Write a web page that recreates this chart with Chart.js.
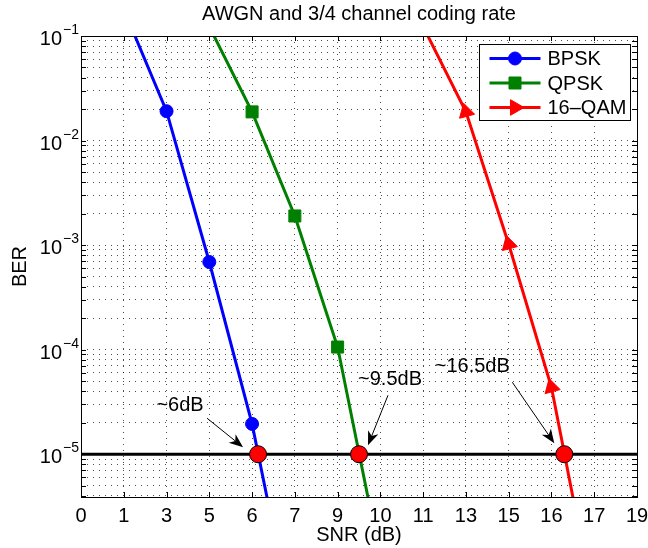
<!DOCTYPE html>
<html>
<head>
<meta charset="utf-8">
<script src="https://cdn.jsdelivr.net/npm/chart.js@4.4.1/dist/chart.umd.min.js"></script>
<style>
  html, body { margin: 0; padding: 0; background: #fff; }
  #wrap { width: 648px; height: 548px; }
</style>
</head>
<body>
<div id="wrap"><canvas id="ber"></canvas></div>
<script>
// SNR tick labels as printed under the axis (they sit at equal spacing)
const snrTicks = [0, 1, 3, 5, 6, 7, 9, 10, 11, 13, 15, 16, 17, 19];

const seriesNames = ['BPSK', 'QPSK', '16\u2013QAM'];
// first and last point of every curve lie outside the shown BER range
const bpskSnr = [1, 3, 5, 6, 7];
const bpskBer = [0.18, 0.0191, 6.9e-4, 1.95e-5, 1.9e-7];
const qpskSnr = [5, 6, 7, 9, 10];
const qpskBer = [0.123, 0.0188, 1.9e-3, 1.06e-4, 1.0e-6];
const qamSnr = [11, 13, 15, 16, 17];
const qamBer = [0.123, 0.0188, 1.02e-3, 4.37e-5, 3.5e-7];

const targetBer = 1e-5;
const crossSnr = [6.14, 9.5, 16.3];
const crossNotes = ['~6dB', '~9.5dB', '~16.5dB'];

const berMin = 3.9e-6;
const berMax = 0.1;

const FONT = '"Liberation Sans", Arial, Helvetica, sans-serif';
const colors = ['#0000ff', '#008000', '#ff0000'];
const markers = [
    {style: 'circle', r: 6.5, rot: 0, legendRot: 0},
    {style: 'rect', r: 8.5, rot: 0, legendRot: 0},
    {style: 'triangle', r: 9, rot: -15, legendRot: 90},
];
// text / arrow tail / arrow tip, in px relative to each red crossing dot
const noteOffsets = [
    {tx: -78, ty: -49, ax: -51, ay: -36, bx: -15, by: -7},
    {tx: 31, ty: -75, ax: 29, ay: -59, bx: 9, by: -9},
    {tx: -92, ty: -88, ax: -52, ay: -72, bx: -10, by: -11},
];

// tick labels are not linear in dB, so place a value between its two labels
function snrPos(db) {
    for (let i = 0; i < snrTicks.length - 1; i++) {
        if (db <= snrTicks[i + 1]) {
            return i + (db - snrTicks[i]) / (snrTicks[i + 1] - snrTicks[i]);
        }
    }
    return snrTicks.length - 1;
}
const toPoints = (xs, ys) => xs.map((x, i) => ({x: snrPos(x), y: ys[i]}));

const series = [[bpskSnr, bpskBer], [qpskSnr, qpskBer], [qamSnr, qamBer]];

function logTicks() {
    const out = [];
    for (let e = -6; e <= -1; e++) {
        for (let m = 1; m <= 9; m++) {
            const v = m * Math.pow(10, e);
            if (v >= berMin * 0.999 && v <= berMax * 1.001) out.push({value: v, major: m === 1});
        }
    }
    return out;
}

function arrow(ctx, x0, y0, x1, y1) {
    const a = Math.atan2(y1 - y0, x1 - x0);
    const len = 14, half = 5.5, back = 10;
    ctx.beginPath();
    ctx.moveTo(x0, y0);
    ctx.lineTo(x1 - Math.cos(a) * back, y1 - Math.sin(a) * back);
    ctx.stroke();
    ctx.save();
    ctx.translate(x1, y1);
    ctx.rotate(a);
    ctx.beginPath();
    ctx.moveTo(0, 0);
    ctx.lineTo(-len, -half);
    ctx.lineTo(-back, 0);
    ctx.lineTo(-len, half);
    ctx.closePath();
    ctx.fill();
    ctx.restore();
}

const matlabAxes = {
    id: 'matlabAxes',
    afterDatasetsDraw(chart) {
        const {ctx, chartArea: ca, scales: {x, y}} = chart;
        ctx.save();
        ctx.strokeStyle = '#000';
        ctx.lineWidth = 1;
        ctx.beginPath();
        x.ticks.forEach(t => {
            const px = Math.round(x.getPixelForValue(t.value)) + 0.5;
            ctx.moveTo(px, ca.bottom); ctx.lineTo(px, ca.bottom - 5);
            ctx.moveTo(px, ca.top); ctx.lineTo(px, ca.top + 5);
        });
        y.ticks.forEach(t => {
            const py = Math.round(y.getPixelForValue(t.value)) + 0.5;
            ctx.moveTo(ca.left, py); ctx.lineTo(ca.left + 5, py);
            ctx.moveTo(ca.right, py); ctx.lineTo(ca.right - 5, py);
        });
        ctx.stroke();
        ctx.strokeRect(Math.round(ca.left) + 0.5, Math.round(ca.top) + 0.5,
            Math.round(ca.right - ca.left), Math.round(ca.bottom - ca.top));

        // notes with arrows
        ctx.fillStyle = '#000';
        ctx.strokeStyle = '#000';
        ctx.lineWidth = 1;
        ctx.font = '20px ' + FONT;
        ctx.textAlign = 'center';
        ctx.textBaseline = 'middle';
        const cy = y.getPixelForValue(targetBer);
        crossSnr.forEach((d, k) => {
            const cx = x.getPixelForValue(snrPos(d));
            const o = noteOffsets[k];
            ctx.fillText(crossNotes[k], cx + o.tx, cy + o.ty);
            arrow(ctx, cx + o.ax, cy + o.ay, cx + o.bx, cy + o.by);
        });
        ctx.restore();
    },
    afterDraw(chart) {
        const {ctx, chartArea: ca, scales: {y}} = chart;
        ctx.save();
        ctx.fillStyle = '#000';
        // title
        ctx.font = '20px ' + FONT;
        ctx.textAlign = 'center';
        ctx.textBaseline = 'middle';
        ctx.fillText('AWGN and 3/4 channel coding rate', (ca.left + ca.right) / 2, 14);
        // y tick labels 10^e
        ctx.textBaseline = 'alphabetic';
        for (let e = -5; e <= -1; e++) {
            const py = y.getPixelForValue(Math.pow(10, e));
            ctx.font = '20px ' + FONT;
            ctx.textAlign = 'right';
            ctx.fillText('10', ca.left - 19, py + 9);
            ctx.font = '14px ' + FONT;
            ctx.textAlign = 'left';
            ctx.fillText('\u2212' + Math.abs(e), ca.left - 18, py - 2);
        }
        // legend
        const bx = Math.round(ca.right - 158) + 0.5, by = Math.round(ca.top + 8) + 0.5;
        ctx.fillStyle = '#fff';
        ctx.fillRect(bx, by, 151, 76);
        ctx.strokeStyle = '#000';
        ctx.lineWidth = 1;
        ctx.strokeRect(bx, by, 151, 76);
        ctx.font = '20px ' + FONT;
        ctx.textAlign = 'left';
        ctx.textBaseline = 'middle';
        seriesNames.forEach((name, k) => {
            const ry = by + 14 + k * 24.5;
            ctx.strokeStyle = colors[k];
            ctx.fillStyle = colors[k];
            ctx.lineWidth = 3;
            ctx.beginPath();
            ctx.moveTo(bx + 10, ry);
            ctx.lineTo(bx + 61, ry);
            ctx.stroke();
            ctx.lineWidth = 1;
            Chart.helpers.drawPoint(ctx, {
                pointStyle: markers[k].style, radius: markers[k].r,
                rotation: markers[k].legendRot, borderWidth: 1
            }, bx + 35.5, ry);
            ctx.fillStyle = '#000';
            ctx.fillText(name, bx + 68, ry + 1);
        });
        ctx.restore();
    }
};

const gridOpts = {color: 'rgba(0,0,0,0.7)', lineWidth: 1, drawTicks: false};
const borderOpts = {display: false, dash: [1, 5]};

new Chart(document.getElementById('ber'), {
    type: 'line',
    data: {
        datasets: [
            ...series.map(([xs, ys], k) => ({
                label: seriesNames[k],
                data: toPoints(xs, ys),
                borderColor: colors[k],
                backgroundColor: colors[k],
                borderWidth: 3,
                pointStyle: markers[k].style,
                pointRadius: markers[k].r,
                pointRotation: markers[k].rot,
                pointBorderWidth: 1,
                pointBorderColor: colors[k],
                pointBackgroundColor: colors[k],
                tension: 0,
                clip: 0,
                order: 2
            })),
            {
                label: 'target',
                data: [{x: snrPos(snrTicks[0]), y: targetBer}, {x: snrPos(snrTicks[snrTicks.length - 1]), y: targetBer}],
                borderColor: '#000',
                borderWidth: 3,
                pointRadius: 0,
                clip: 0,
                order: 1
            },
            {
                label: 'cross',
                data: crossSnr.map(d => ({x: snrPos(d), y: targetBer})),
                showLine: false,
                pointRadius: 8.5,
                pointBackgroundColor: '#ff0000',
                pointBorderColor: '#000',
                pointBorderWidth: 1,
                clip: false,
                order: 0
            }
        ]
    },
    options: {
        responsive: true,
        maintainAspectRatio: false,
        animation: false,
        layout: {padding: {top: 36, right: 11, left: 0, bottom: 0}},
        plugins: {
            legend: {display: false},
            tooltip: {enabled: false},
            title: {display: false}
        },
        scales: {
            x: {
                type: 'linear',
                min: 0,
                max: snrTicks.length - 1,
                afterBuildTicks: s => { s.ticks = snrTicks.map((_, i) => ({value: i})); },
                afterFit: s => { s.height = 51; s.paddingLeft = 0; s.paddingRight = 0; },
                ticks: {
                    callback: v => snrTicks[v],
                    font: {family: FONT, size: 20},
                    color: '#000',
                    padding: 7,
                    maxRotation: 0,
                    autoSkip: false
                },
                grid: gridOpts,
                border: borderOpts,
                title: {
                    display: true,
                    text: 'SNR (dB)',
                    font: {family: FONT, size: 20},
                    color: '#000',
                    padding: {top: 0, bottom: 1}
                }
            },
            y: {
                type: 'logarithmic',
                min: berMin,
                max: berMax,
                afterBuildTicks: s => { s.ticks = logTicks(); },
                afterFit: s => { s.width = 81; s.paddingTop = 0; s.paddingBottom = 0; },
                ticks: {display: false, autoSkip: false},
                grid: gridOpts,
                border: borderOpts,
                title: {
                    display: true,
                    text: 'BER',
                    font: {family: FONT, size: 20},
                    color: '#000',
                    padding: {top: 8, bottom: 0}
                }
            }
        }
    },
    plugins: [matlabAxes]
});
</script>
</body>
</html>
